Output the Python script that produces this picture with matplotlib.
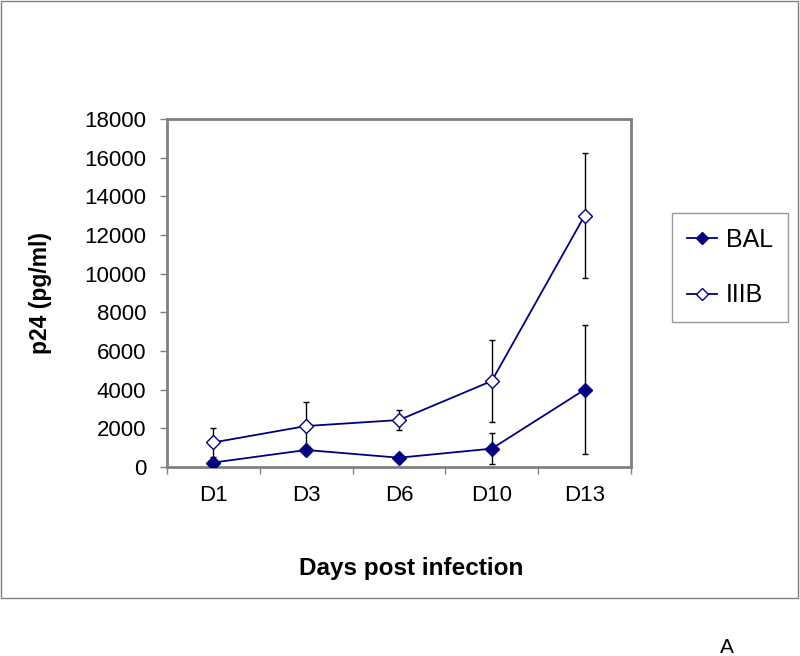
import matplotlib
matplotlib.use("Agg")
import matplotlib.pyplot as plt
from matplotlib.patches import Rectangle

plt.rcParams['font.family'] = ['Liberation Sans', 'DejaVu Sans']

days = ["D1", "D3", "D6", "D10", "D13"]
bal = [230, 880, 480, 950, 4000]
bal_err = [150, 100, 100, 820, 3350]
iiib = [1270, 2120, 2430, 4450, 13000]
iiib_err = [770, 1260, 535, 2140, 3220]
yticks = [0, 2000, 4000, 6000, 8000, 10000, 12000, 14000, 16000, 18000]

W, H = 800, 656
fig = plt.figure(figsize=(8, 6.56), dpi=100)
ax = fig.add_axes([167/W, 1-467/H, (631-167)/W, (467-119)/H])

navy = '#000080'
gray = '#808080'
x = list(range(len(days)))

ax.errorbar(x, iiib, yerr=iiib_err, fmt='none', ecolor='black', elinewidth=1, capsize=2.5, capthick=1, zorder=2)
ax.errorbar(x, bal, yerr=bal_err, fmt='none', ecolor='black', elinewidth=1, capsize=2.5, capthick=1, zorder=2)
ax.plot(x, bal, color=navy, lw=1.3, marker='D', ms=7.5, mfc=navy, mec=navy, label='BAL', zorder=3)
ax.plot(x, iiib, color=navy, lw=1.3, marker='D', ms=7.5, mfc='white', mec=navy, mew=1, label='IIIB', zorder=3)

ax.set_xlim(-0.5, len(days) - 0.5)
ax.set_ylim(0, 18000)
ax.set_yticks(yticks)
ax.set_yticklabels([str(v) for v in yticks])
ax.set_xticks(x)
ax.set_xticklabels(days)
ax.set_xticks([i - 0.5 for i in range(len(days) + 1)], minor=True)
ax.tick_params(axis='x', which='major', length=0, pad=13, labelsize=16)
ax.tick_params(axis='x', which='minor', length=5, width=1, color=gray, direction='out')
ax.tick_params(axis='y', length=5, width=1, color=gray, direction='out', pad=10, labelsize=16)
for s in ax.spines.values():
    s.set_color(gray)
    s.set_linewidth(2)

fig.text(40/W, 1-293/H, 'p24 (pg/ml)', rotation=90, ha='center', va='center', fontsize=16.5, fontweight='bold')
fig.text(411/W, 1-569/H, 'Days post infection', ha='center', va='center', fontsize=17.5, fontweight='bold')
fig.text(727/W, 1-653/H, 'A', ha='center', va='baseline', fontsize=15)

leg = ax.legend(loc='upper left', bbox_to_anchor=(672/W, 1-213/H), bbox_transform=fig.transFigure,
                borderaxespad=0, fancybox=False, frameon=True, fontsize=18, markerscale=0.75,
                handlelength=1.2, handletextpad=0.35, borderpad=0.6, labelspacing=1.25)
leg.get_frame().set_edgecolor(gray)
leg.get_frame().set_linewidth(1)

fig.patches.append(Rectangle((0.5/W, 1-598/H), (798-0.5)/W, (598-0.5)/H, transform=fig.transFigure,
                             fill=False, edgecolor=gray, lw=1))

fig.savefig('out.png', dpi=100)
